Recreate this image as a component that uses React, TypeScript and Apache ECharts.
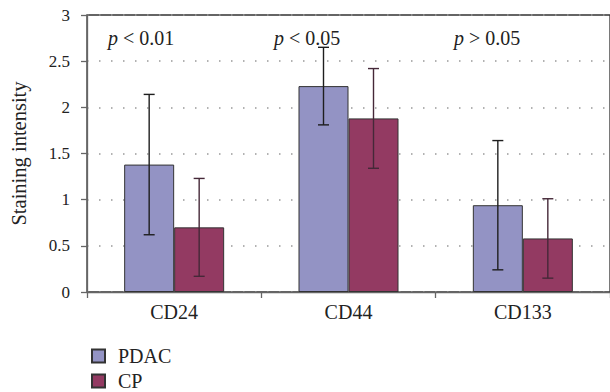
import React, { useEffect, useRef } from "react";
import * as echarts from "echarts";

const categories = ["CD24", "CD44", "CD133"];
const seriesNames = ["PDAC", "CP"];
const pdacMean = [1.38, 2.23, 0.94];
const pdacSD = [0.76, 0.42, 0.7];
const cpMean = [0.7, 1.88, 0.58];
const cpSD = [0.53, 0.54, 0.43];
const yTicks = { min: 0, max: 3, interval: 0.5 };
const pLabels = ["p < 0.01", "p < 0.05", "p > 0.05"];

const FONT = "Liberation Serif";

function errorSeries(name: string, means: number[], sds: number[], offset: number, color: string) {
  const data = means.map((m, i) => [i, m - sds[i], m + sds[i]]);
  return {
    type: "custom",
    name: name + " err",
    z: 10,
    data,
    renderItem: (params: any, api: any) => {
      const idx = api.value(0);
      const lo = api.coord([idx, api.value(1)]);
      const hi = api.coord([idx, api.value(2)]);
      const x = lo[0] + offset;
      const cap = 5.5;
      const style = { stroke: color, lineWidth: 1.4, fill: "none" };
      return {
        type: "group",
        children: [
          { type: "line", shape: { x1: x, y1: lo[1], x2: x, y2: hi[1] }, style },
          { type: "line", shape: { x1: x - cap, y1: lo[1], x2: x + cap, y2: lo[1] }, style },
          { type: "line", shape: { x1: x - cap, y1: hi[1], x2: x + cap, y2: hi[1] }, style },
        ],
      };
    },
  };
}

export default function App() {
  const ref = useRef<HTMLDivElement>(null);
  useEffect(() => {
    if (!ref.current) return;
    const chart = echarts.init(ref.current, null, { renderer: "svg" });
    const pTextX = [108, 274, 454];
    chart.setOption({
      animation: false,
      backgroundColor: "#ffffff",
      textStyle: { fontFamily: FONT },
      grid: {
        left: 87,
        top: 15,
        right: -4,
        bottom: 100,
        show: true,
        borderColor: "#333",
        borderWidth: 1.3,
        backgroundColor: "transparent",
      },
      legend: {
        data: seriesNames,
        orient: "vertical",
        left: 86,
        top: 341,
        height: 52,
        icon: "rect",
        itemWidth: 13,
        itemHeight: 13,
        itemGap: 5,
        textStyle: {
          fontFamily: FONT,
          fontSize: 20,
          lineHeight: 20,
          color: "#222",
          padding: [0, 0, 0, 8],
        },
      },
      xAxis: {
        type: "category",
        data: categories,
        axisLine: { lineStyle: { color: "#666", width: 1.3 } },
        axisTick: { show: true, length: 6, lineStyle: { color: "#666", width: 1.3 } },
        axisLabel: { fontFamily: FONT, fontSize: 20, color: "#222", margin: 10 },
      },
      yAxis: {
        type: "value",
        min: yTicks.min,
        max: yTicks.max,
        interval: yTicks.interval,
        name: "Staining intensity",
        nameLocation: "middle",
        nameRotate: 90,
        nameGap: 58,
        nameTextStyle: { fontFamily: FONT, fontSize: 20.5, color: "#222" },
        axisLine: { show: true, lineStyle: { color: "#666", width: 1.3 } },
        axisTick: { show: true, length: 6, lineStyle: { color: "#666", width: 1.3 } },
        axisLabel: { fontFamily: FONT, fontSize: 17, color: "#222", margin: 17 },
        splitLine: {
          show: true,
          lineStyle: { color: "#999", width: 1.5, type: [1.5, 10.5], dashOffset: 0 },
        },
      },
      series: [
        {
          type: "bar",
          name: seriesNames[0],
          data: pdacMean,
          barWidth: 50,
          barGap: "0%",
          itemStyle: { color: "#9393c4", borderColor: "#333", borderWidth: 1 },
        },
        {
          type: "bar",
          name: seriesNames[1],
          data: cpMean,
          barWidth: 50,
          barGap: "0%",
          itemStyle: { color: "#933a62", borderColor: "#333", borderWidth: 1 },
        },
        errorSeries(seriesNames[0], pdacMean, pdacSD, -25, "#1e1e1e"),
        errorSeries(seriesNames[1], cpMean, cpSD, 25, "#452838"),
      ],
      graphic: pLabels.map((t, i) => ({
        type: "text",
        left: pTextX[i],
        top: 28,
        style: {
          text: "{i|p}" + t.slice(1),
          font: `20px ${FONT}`,
          fill: "#222",
          rich: { i: { fontStyle: "italic", fontSize: 20, fontFamily: FONT, fill: "#222" } },
        },
      })),
    });
    return () => chart.dispose();
  }, []);
  return (
    <div
      ref={ref}
      style={{ position: "fixed", left: 0, top: 0, width: 610, height: 392 }}
    />
  );
}
